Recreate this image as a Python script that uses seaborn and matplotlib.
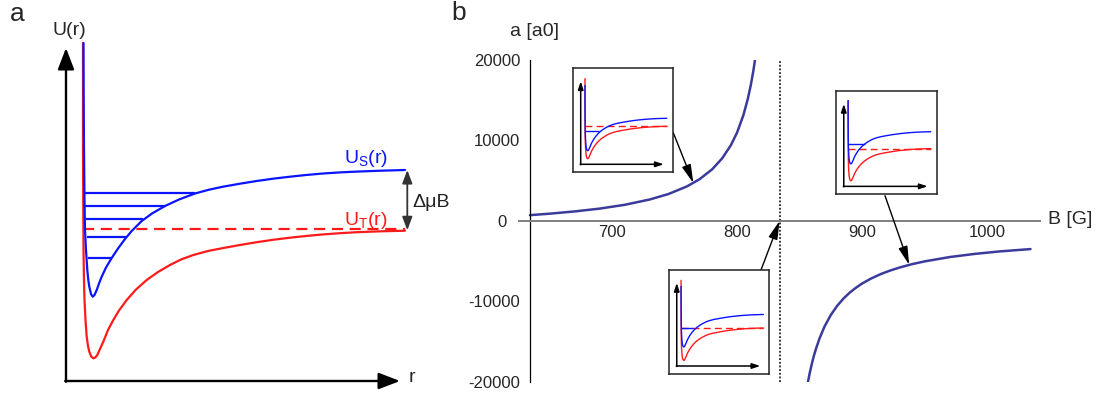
import numpy as np
import matplotlib
matplotlib.use("Agg")
import matplotlib.pyplot as plt
from matplotlib.patches import Rectangle
from matplotlib.ticker import MultipleLocator
from matplotlib.transforms import ScaledTranslation
import seaborn as sns

# === panel a: singlet / triplet potentials (arbitrary units) ===
r_singlet = [17.5, 17.7, 18, 18.5, 19, 20, 21.3, 22.3, 23.3, 25, 26.7, 28.5, 30.7, 33, 35.7,
             40, 45.7, 52, 59, 65.7, 75.7, 86, 99, 113, 129, 143, 157, 174, 190.7, 207,
             224, 240, 257, 274, 290.7, 315, 339]
u_singlet = [338, 281, 231, 181, 151, 131, 111, 101, 94.3, 87, 84.3, 86, 91, 97.5, 104.3,
             113.5, 123, 132.5, 142, 150, 160, 167.5, 175, 181.5, 187.5, 191.3, 194.3, 197.3,
             200, 202.3, 204.3, 206, 207.5, 208.6, 209.4, 210.3, 211]
r_triplet = [17, 17, 17.3, 17.5, 18, 18.5, 19.5, 20.7, 22, 23.3, 25.2, 27.3, 29.3, 31.3, 34,
             37.3, 42, 47.3, 53, 60.7, 70, 80.7, 92, 104, 115, 127.3, 142, 157.3, 174, 190.7,
             207, 224, 240, 257.3, 274, 290.7, 315, 339]
u_triplet = [338, 231, 170, 131, 100, 81, 61, 44.3, 35, 29.3, 24.5, 22.7, 23.5, 26, 32,
             39.3, 51, 61, 70.5, 81, 91.5, 101, 109, 116, 121.5, 126, 130, 133, 136, 138.8,
             141.2, 143.3, 145, 146.6, 147.8, 148.8, 149.7, 150.3]
level_u = [187.7, 175.3, 161.7, 144.3, 122.7]
level_r_start = [19, 19, 19.5, 20.5, 21.5]
level_r_end = [129, 100, 77, 60, 45.7]
threshold_u = 151.7
r_max = 339

# === panel b: scattering length a(B) around the resonance ===
B_below = [634.4, 650, 670, 690, 710, 730, 745, 760, 770, 780, 788, 795, 800, 805, 808.5,
           811, 813, 814.3]
a_below = [710, 890, 1170, 1520, 1990, 2650, 3330, 4290, 5180, 6400, 7760, 9400, 10990,
           13130, 15130, 16920, 18670, 20000]
B_above = [856.7, 858, 860, 861.5, 863, 866, 870, 875, 880, 885, 890, 895, 900, 907, 915,
           922, 930, 940, 950, 970, 990, 1010, 1034.6]
a_above = [-20000, -18970, -17620, -16730, -15940, -14580, -13110, -11690, -10570, -9670,
           -8930, -8320, -7790, -7180, -6610, -6200, -5800, -5380, -5040, -4500, -4110,
           -3800, -3510]
B_res = 834
x_ticks = [700, 800, 900, 1000]
y_ticks = [-20000, -10000, 0, 10000, 20000]

# insets: where the arrows point, how far the singlet sits above threshold, bound level
inset_targets = [(765, 4700), (834, 0), (937.6, -5470)]
inset_blue_shift = [8, 13.5, 17]
inset_blue_cap = [87.3, 88, 95.3]
inset_level = [41.3, 46, 51]
inset_level_end = [26.6, 24.6, 28.6]

BLUE = "#0a14ff"
RED = "#ff1a1a"
CURVE = "#3b3b9c"

sns.set_style("white")
plt.rcParams["font.family"] = ["Liberation Sans", "DejaVu Sans"]
plt.rcParams["mathtext.default"] = "regular"
plt.rcParams["axes.unicode_minus"] = False

W, H = 1105, 394
fig = plt.figure(figsize=(W / 100, H / 100), dpi=100)


def box(left, top, w, h):
    return [left / W, 1 - (top + h) / H, w / W, h / H]


# ---------------- panel a ----------------
ax_a = fig.add_axes([0, 0, 470 / W, 1])
sns.lineplot(x=r_triplet, y=u_triplet, ax=ax_a, color=RED, lw=1.6, sort=False, estimator=None)
ax_a.hlines(threshold_u, r_triplet[0], r_max, color=RED, lw=1.6, linestyles=(0, (5, 3)))
ax_a.hlines(level_u, level_r_start, level_r_end, color=BLUE, lw=1.6)
sns.lineplot(x=r_singlet, y=u_singlet, ax=ax_a, color=BLUE, lw=1.6, sort=False, estimator=None)
ax_a.set_xlim(-66, 404)
ax_a.set_ylim(-13, 381)
ax_a.axis("off")

axis_arrow = dict(arrowstyle="-|>,head_length=0.65,head_width=0.25", mutation_scale=20,
                  lw=1.7, color="black", shrinkA=0, shrinkB=0)
ax_a.annotate("", xy=(0, 333), xytext=(0, -0.8), arrowprops=axis_arrow)
ax_a.annotate("", xy=(334, 0), xytext=(-0.8, 0), arrowprops=axis_arrow)
ax_a.annotate("", xy=(341.3, 211), xytext=(341.3, 150.7),
              arrowprops=dict(arrowstyle="<|-|>,head_length=0.8,head_width=0.3",
                              mutation_scale=10, lw=1.3, color="#333333",
                              shrinkA=0, shrinkB=0))

ax_a.text(-49, 367, "a", fontsize=19, ha="center", va="center")
ax_a.text(3, 351, "U(r)", fontsize=14, ha="center", va="center")
ax_a.text(346, 3, "r", fontsize=14, ha="center", va="center")
ax_a.text(300, 223, r"$U_S(r)$", fontsize=14, color=BLUE, ha="center", va="center")
ax_a.text(300, 161, r"$U_T(r)$", fontsize=14, color=RED, ha="center", va="center")
ax_a.text(346, 179, "ΔμB", fontsize=14, color="#222222", ha="left", va="center")

# ---------------- panel b ----------------
ax_b = fig.add_axes(box(519, 60, 521, 321.7))
sns.lineplot(x=B_below, y=a_below, ax=ax_b, color=CURVE, lw=1.8, sort=False, estimator=None)
sns.lineplot(x=B_above, y=a_above, ax=ax_b, color=CURVE, lw=1.8, sort=False, estimator=None)
ax_b.axvline(B_res, color="black", lw=1.1, ls=(0, (1.2, 1.2)))
ax_b.set_xlim(625.6, 1042.2)
ax_b.set_ylim(-20000, 20000)
ax_b.set_xlabel("")
ax_b.set_ylabel("")
for side in ["top", "right"]:
    ax_b.spines[side].set_visible(False)
ax_b.spines["left"].set_position(("data", 634.4))
ax_b.spines["bottom"].set_position(("data", 0))
ax_b.spines["left"].set_color("black")
ax_b.spines["left"].set_linewidth(0.9)
ax_b.spines["bottom"].set_color("#7f7f7f")
ax_b.spines["bottom"].set_linewidth(1.4)
ax_b.set_xticks(x_ticks)
ax_b.set_yticks(y_ticks)
ax_b.xaxis.set_minor_locator(MultipleLocator(20))
ax_b.yaxis.set_minor_locator(MultipleLocator(2000))
ax_b.tick_params(axis="x", which="both", direction="in", color="#7f7f7f", labelsize=12, pad=3)
ax_b.tick_params(axis="y", which="both", direction="in", color="black", labelsize=12, pad=7)
ax_b.tick_params(which="major", length=4, width=0.9)
ax_b.tick_params(which="minor", length=2.5, width=0.8)
# the "0" label sits further left, clear of the B axis
zero_tick = ax_b.yaxis.get_major_ticks()[2]
zero_tick.label1.set_transform(zero_tick.label1.get_transform()
                               + ScaledTranslation(-0.14, 0, fig.dpi_scale_trans))

fig.text(535 / W, 1 - 31 / H, "a [a0]", fontsize=14, ha="center", va="center")
fig.text(1048 / W, 1 - 220 / H, "B [G]", fontsize=14, ha="left", va="center")
fig.text(459 / W, 1 - 13 / H, "b", fontsize=19, ha="center", va="center")

# ---------------- insets ----------------
inset_boxes = [box(572.7, 68.3, 100, 104), box(668.7, 270, 100.6, 104), box(835.7, 91, 101, 103.3)]
inset_tails = [(673.3, 132.7), (761, 270), (885, 195.7)]
scale = 0.254
xs = 12.3 + (np.array(r_triplet) - r_triplet[0]) * scale
ys = 46 + (np.array(u_triplet) - u_triplet[-1]) * scale

for k in range(3):
    ax_i = fig.add_axes(inset_boxes[k])
    ax_i.set_facecolor("white")
    sns.lineplot(x=xs, y=ys, ax=ax_i, color=RED, lw=1.0, sort=False, estimator=None)
    ax_i.hlines(46, xs[0], xs[-1], color=RED, lw=1.0, linestyles=(0, (5, 3)))
    sns.lineplot(x=xs, y=ys + inset_blue_shift[k], ax=ax_i, color=BLUE, lw=1.0,
                 sort=False, estimator=None)
    ax_i.lines[-1].set_clip_path(Rectangle((0, 0), 100, inset_blue_cap[k],
                                           transform=ax_i.transData))
    ax_i.hlines(inset_level[k], xs[0], inset_level_end[k], color=BLUE, lw=1.0)
    small_arrow = dict(arrowstyle="-|>,head_length=0.6,head_width=0.2", mutation_scale=8,
                       lw=1.1, color="black", shrinkA=0, shrinkB=0)
    ax_i.annotate("", xy=(8, 91), xytext=(8, 7.5), arrowprops=small_arrow)
    ax_i.annotate("", xy=(91, 8), xytext=(7.5, 8), arrowprops=small_arrow)
    ax_i.set_xlim(0, 100)
    ax_i.set_ylim(0, 104)
    ax_i.set_xticks([])
    ax_i.set_yticks([])
    ax_i.set_xlabel("")
    ax_i.set_ylabel("")
    for s in ax_i.spines.values():
        s.set_visible(True)
        s.set_color("#222222")
        s.set_linewidth(1.1)

    tx, ty = inset_tails[k]
    ax_b.annotate("", xy=inset_targets[k], xycoords="data",
                  xytext=(tx, H - ty), textcoords="figure pixels",
                  arrowprops=dict(arrowstyle="-|>,head_length=1.4,head_width=0.35",
                                  mutation_scale=8, lw=1.0, color="black",
                                  shrinkA=0, shrinkB=0))

fig.savefig("out.png", dpi=100)
